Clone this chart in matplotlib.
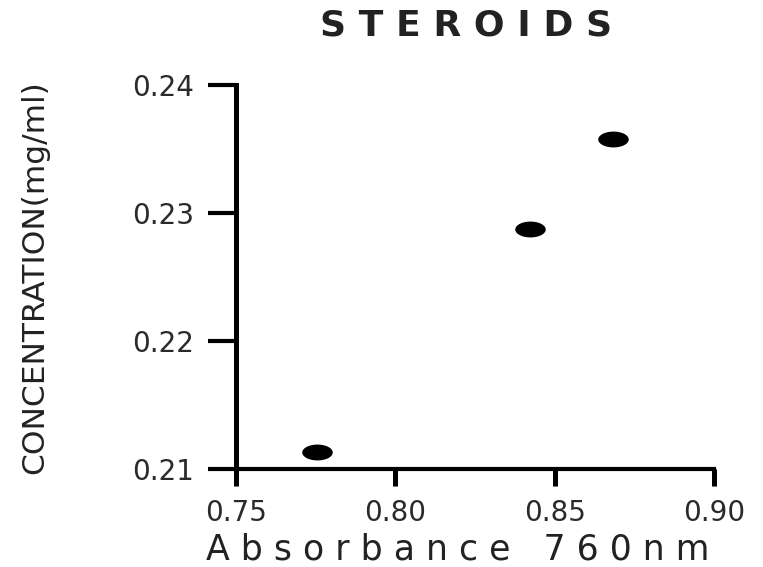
import numpy as np
import matplotlib
matplotlib.use("Agg")
import matplotlib.pyplot as plt

# absorbance at 760 nm vs steroid concentration
absorbance = [0.7754, 0.8422, 0.8683]
concentration = [0.2114, 0.2288, 0.2358]

x_ticks = [0.75, 0.80, 0.85, 0.90]
x_tick_labels = ["0.75", "0.80", "0.85", "0.90"]
y_ticks = [0.21, 0.22, 0.23, 0.24]
y_tick_labels = ["0.21", "0.22", "0.23", "0.24"]

plt.rcParams["font.family"] = ["DejaVu Sans"]

fig = plt.figure(figsize=(7.63, 5.67), dpi=100)
ax = fig.add_axes([0.3093, 0.1720, 0.6265, 0.6781])

# the dots in the reference are wide flat ellipses
t = np.linspace(0, 2 * np.pi, 40)
ellipse = np.column_stack([np.cos(t), 0.52 * np.sin(t)])

ax.plot(absorbance, concentration, linestyle="none", marker=ellipse,
        markersize=22, color="black", markeredgewidth=0)

ax.set_xlim(0.75, 0.90)
ax.set_ylim(0.21, 0.24)
ax.set_xticks(x_ticks)
ax.set_xticklabels(x_tick_labels)
ax.set_yticks(y_ticks)
ax.set_yticklabels(y_tick_labels)

for side in ["top", "right"]:
    ax.spines[side].set_visible(False)
ax.spines["left"].set_linewidth(3.6)
ax.spines["bottom"].set_linewidth(3.0)
ax.spines["left"].set_capstyle("projecting")
ax.spines["bottom"].set_capstyle("projecting")

ax.tick_params(axis="x", direction="out", length=12, width=3.6,
               pad=9, labelsize=20, labelcolor="#2a2a2a")
ax.tick_params(axis="y", direction="out", length=20, width=3.0,
               pad=10, labelsize=20, labelcolor="#2a2a2a")

fig.text(466 / 763, 1 - 25 / 567, "S T E R O I D S", ha="center",
         va="center", fontsize=26, fontweight="semibold", color="#222222")
fig.text(458 / 763, 1 - 549 / 567, "A b s o r b a n c e   7 6 0 n m",
         ha="center", va="center", fontsize=25, color="#222222")
fig.text(35 / 763, 1 - 277 / 567, "CONCENTRATION(mg/ml)", ha="center",
         va="center", rotation=90, fontsize=22.5, color="#222222")

fig.savefig("out.png", dpi=100)
